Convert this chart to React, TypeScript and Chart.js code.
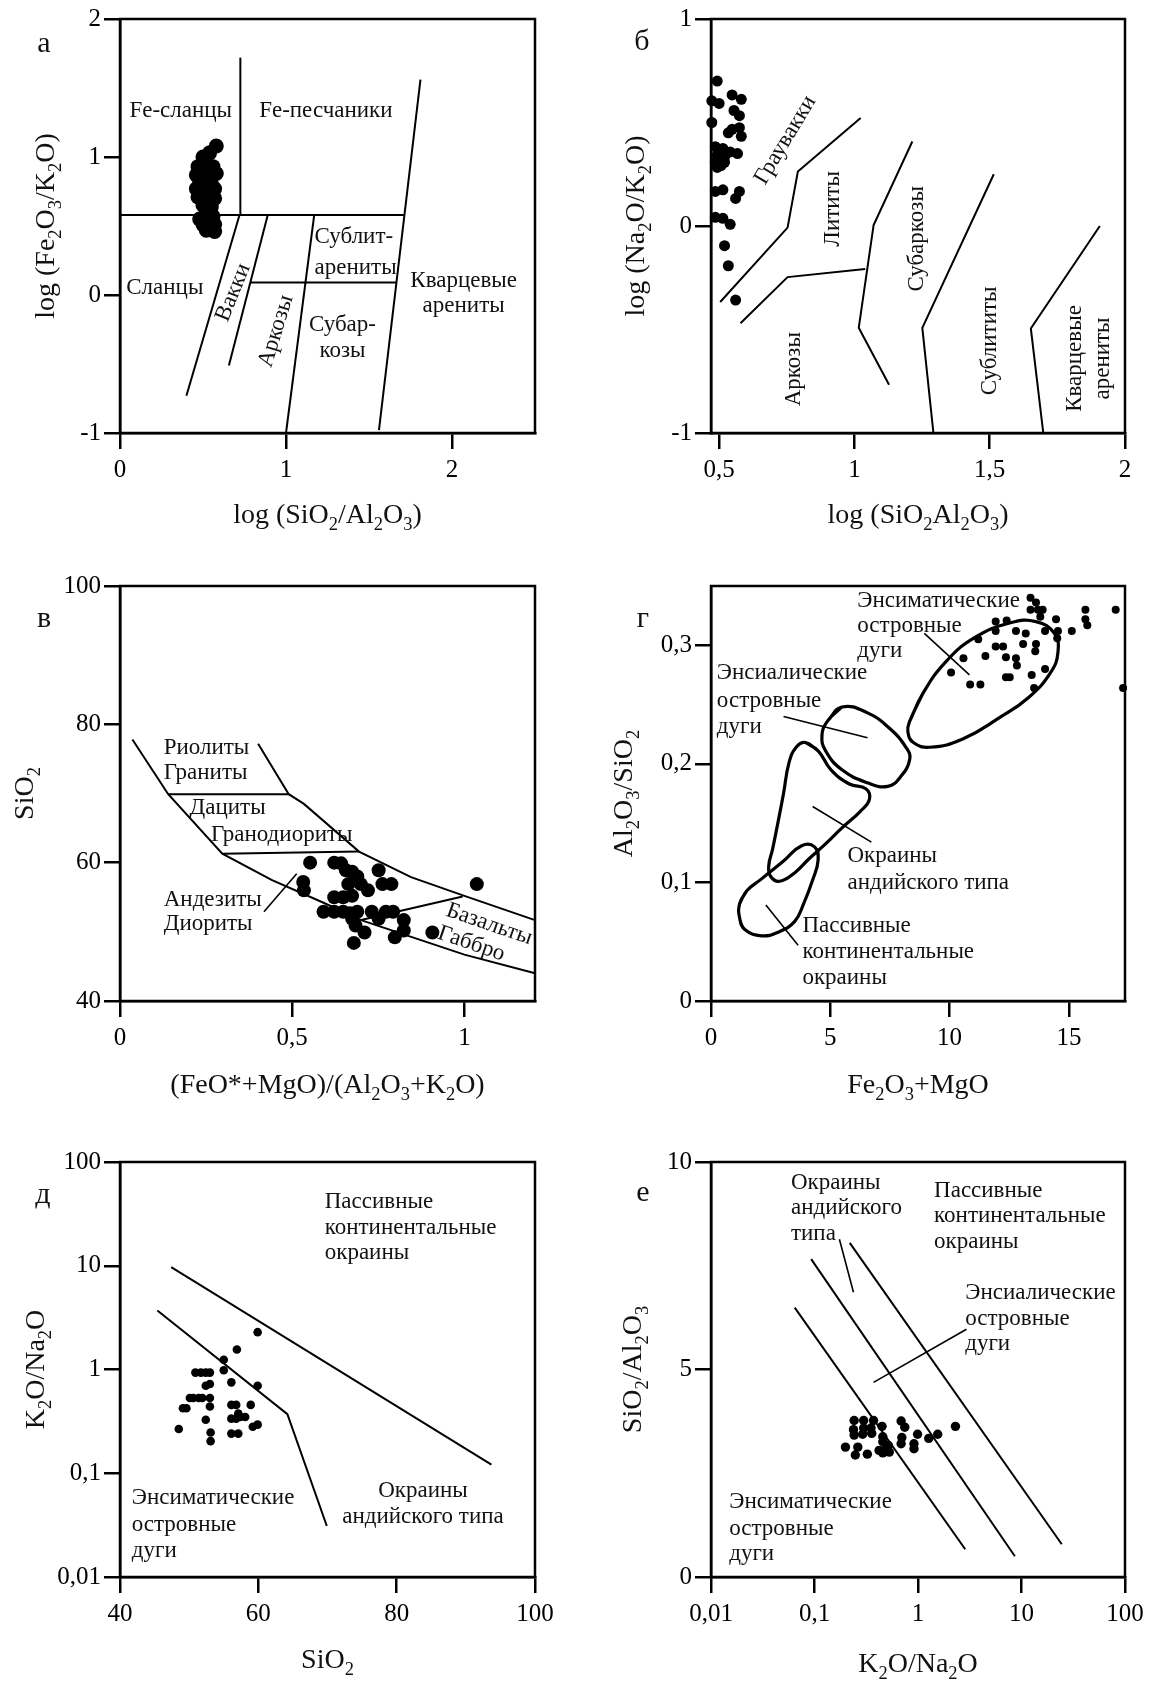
import React, { useEffect, useRef } from "react";
import { Chart, registerables } from "chart.js";

Chart.register(...registerables);

const SERIF = '"Liberation Serif", "Times New Roman", Times, serif';
const TICK_SIZE = 25;
const TITLE_SIZE = 28;
const LABEL_SIZE = 23;
const LETTER_SIZE = 30;
const PAD_L = 120;
const PAD_T = 19;
const PAD_R = 30;
const PAD_B = 106;

type Pt = [number, number];
type Label = { t: string; x: number; y: number; align?: "left" | "center" | "right"; rot?: number };

// ================= Panel а =================
const A_X_TICKS = [0, 1, 2];
const A_Y_TICKS = [-1, 0, 1, 2];
const A_PTS_X = [0.58, 0.54, 0.5, 0.52, 0.47, 0.56, 0.46, 0.53, 0.58, 0.48, 0.55, 0.46, 0.52, 0.57, 0.47, 0.53, 0.57, 0.5, 0.55, 0.52, 0.48, 0.56, 0.5, 0.57, 0.52, 0.57];
const A_PTS_Y = [1.08, 1.03, 1.0, 0.96, 0.93, 0.93, 0.87, 0.87, 0.88, 0.82, 0.81, 0.77, 0.76, 0.77, 0.71, 0.71, 0.7, 0.65, 0.64, 0.6, 0.55, 0.57, 0.51, 0.51, 0.47, 0.46];
const A_LINES: Pt[][] = [
  [[0, 0.58], [1.71, 0.58]],
  [[0.725, 0.58], [0.725, 1.72]],
  [[1.81, 1.56], [1.56, -0.98]],
  [[0.72, 0.58], [0.4, -0.73]],
  [[0.89, 0.58], [0.656, -0.51]],
  [[0.785, 0.09], [1.665, 0.09]],
  [[1.17, 0.58], [1.0, -1.0]],
];
const A_LABELS: Label[] = [
  { t: "Fe-сланцы", x: 0.366, y: 1.34 },
  { t: "Fe-песчаники", x: 1.24, y: 1.34 },
  { t: "Сланцы", x: 0.27, y: 0.06 },
  { t: "Вакки", x: 0.677, y: 0.02, rot: -68 },
  { t: "Аркозы", x: 0.935, y: -0.26, rot: -73 },
  { t: "Сублит-", x: 1.172, y: 0.43, align: "left" },
  { t: "арениты", x: 1.172, y: 0.2, align: "left" },
  { t: "Субар-", x: 1.34, y: -0.21 },
  { t: "козы", x: 1.34, y: -0.4 },
  { t: "Кварцевые", x: 2.07, y: 0.11 },
  { t: "арениты", x: 2.07, y: -0.075 },
];

// ================= Panel б =================
const B_X_TICKS = [0.5, 1, 1.5, 2];
const B_Y_TICKS = [-1, 0, 1];
const B_PTS_X = [0.493, 0.473, 0.5, 0.473, 0.548, 0.582, 0.555, 0.575, 0.548, 0.575, 0.534, 0.582, 0.486, 0.514, 0.541, 0.493, 0.52, 0.486, 0.507, 0.568, 0.52, 0.493, 0.514, 0.486, 0.575, 0.561, 0.486, 0.514, 0.541, 0.52, 0.534, 0.561];
const B_PTS_Y = [0.7, 0.605, 0.592, 0.5, 0.633, 0.612, 0.558, 0.533, 0.467, 0.475, 0.45, 0.433, 0.383, 0.375, 0.358, 0.342, 0.333, 0.308, 0.292, 0.35, 0.308, 0.283, 0.175, 0.167, 0.167, 0.133, 0.042, 0.037, 0.008, -0.095, -0.192, -0.358];
const B_LINES: Pt[][] = [
  [[0.504, -0.367], [0.753, -0.008], [0.791, 0.263], [1.023, 0.522]],
  [[0.579, -0.47], [0.753, -0.247], [1.04, -0.208]],
  [[1.214, 0.408], [1.071, 0.005], [1.016, -0.492], [1.128, -0.767]],
  [[1.515, 0.25], [1.251, -0.492], [1.292, -1.0]],
  [[1.907, 0.0], [1.652, -0.495], [1.698, -1.0]],
];
const B_LABELS: Label[] = [
  { t: "Граувакки", x: 0.742, y: 0.417, rot: -59 },
  { t: "Лититы", x: 0.917, y: 0.083, rot: -90 },
  { t: "Субаркозы", x: 1.227, y: -0.062, rot: -90 },
  { t: "Аркозы", x: 0.773, y: -0.692, rot: -90 },
  { t: "Сублититы", x: 1.497, y: -0.555, rot: -90 },
  { t: "Кварцевые", x: 1.811, y: -0.64, rot: -90 },
  { t: "арениты", x: 1.914, y: -0.64, rot: -90 },
];

// ================= Panel в =================
const V_X_TICKS = [0, 0.5, 1];
const V_Y_TICKS = [40, 60, 80, 100];
const V_PTS_X = [0.552, 0.532, 0.534, 0.622, 0.642, 0.656, 0.674, 0.689, 0.663, 0.699, 0.72, 0.622, 0.648, 0.674, 0.591, 0.622, 0.648, 0.668, 0.689, 0.674, 0.684, 0.71, 0.731, 0.751, 0.772, 0.793, 0.751, 0.762, 0.788, 0.824, 0.824, 0.798, 0.907, 1.036, 0.679];
const V_PTS_Y = [60.0, 57.2, 56.0, 60.0, 59.9, 58.9, 58.7, 58.0, 56.9, 56.9, 56.0, 55.0, 55.0, 55.2, 52.9, 52.9, 52.9, 52.7, 52.9, 51.9, 50.9, 49.9, 52.9, 51.9, 52.9, 52.9, 58.9, 56.9, 56.9, 51.7, 50.2, 49.2, 49.9, 56.9, 48.4];
const V_LINES: Pt[][] = [
  [[0.036, 77.8], [0.14, 69.9], [0.297, 61.3], [0.44, 57.5], [0.591, 54.2], [0.7, 51.7], [1.0, 46.7], [1.205, 44.0]],
  [[0.401, 77.2], [0.49, 69.9], [0.534, 68.5], [0.694, 61.6], [0.845, 57.9], [1.0, 55.2], [1.205, 51.7]],
  [[0.14, 69.9], [0.49, 69.9]],
  [[0.297, 61.3], [0.694, 61.6]],
  [[0.7, 51.7], [0.995, 55.1]],
];
const V_POINTERS: Pt[][] = [[[0.418, 52.9], [0.513, 58.4]]];
const V_LABELS: Label[] = [
  { t: "Риолиты", x: 0.127, y: 76.7, align: "left" },
  { t: "Граниты", x: 0.127, y: 73.1, align: "left" },
  { t: "Дациты", x: 0.202, y: 68.0, align: "left" },
  { t: "Гранодиориты", x: 0.264, y: 64.1, align: "left" },
  { t: "Андезиты", x: 0.127, y: 54.7, align: "left" },
  { t: "Диориты", x: 0.127, y: 51.2, align: "left" },
  { t: "Базальты", x: 1.073, y: 51.2, rot: 19 },
  { t: "Габбро", x: 1.021, y: 48.4, rot: 19 },
];

// ================= Panel г =================
const G_X_TICKS = [0, 5, 10, 15];
const G_Y_TICKS = [0, 0.1, 0.2, 0.3];
const G_PTS_X = [13.39, 13.62, 13.39, 13.7, 13.9, 13.8, 11.93, 12.39, 14.46, 15.69, 15.69, 15.77, 16.96, 11.93, 12.78, 13.19, 14.0, 14.54, 15.12, 14.51, 11.2, 11.93, 12.24, 13.08, 13.62, 13.59, 10.58, 11.5, 12.36, 12.78, 12.82, 14.0, 10.06, 10.86, 11.29, 12.36, 12.52, 13.44, 13.54, 17.27];
const G_PTS_Y = [0.34, 0.336, 0.33, 0.33, 0.33, 0.324, 0.32, 0.321, 0.322, 0.33, 0.322, 0.317, 0.33, 0.312, 0.312, 0.31, 0.312, 0.312, 0.312, 0.306, 0.305, 0.299, 0.299, 0.301, 0.301, 0.295, 0.289, 0.291, 0.29, 0.289, 0.283, 0.28, 0.277, 0.267, 0.267, 0.273, 0.273, 0.275, 0.264, 0.264];
const G_CURVES: Pt[][] = [
  [[8.33, 0.236], [8.87, 0.259], [9.79, 0.285], [11.01, 0.306], [12.55, 0.319], [13.62, 0.32], [14.39, 0.31], [14.54, 0.294], [14.23, 0.277], [13.31, 0.256], [12.09, 0.239], [10.55, 0.221], [9.17, 0.214], [8.48, 0.218], [8.25, 0.227]],
  [[4.88, 0.236], [5.49, 0.248], [6.56, 0.243], [7.48, 0.23], [8.17, 0.214], [8.33, 0.204], [7.94, 0.189], [7.41, 0.181], [6.56, 0.184], [5.49, 0.195], [4.8, 0.211], [4.65, 0.224]],
  [[3.96, 0.218], [4.49, 0.211], [5.03, 0.195], [5.8, 0.183], [6.49, 0.179], [6.64, 0.17], [6.26, 0.16], [5.49, 0.146], [4.72, 0.131], [4.11, 0.12], [3.5, 0.108], [2.88, 0.101], [2.5, 0.105], [2.42, 0.114], [2.58, 0.128], [2.81, 0.151], [3.04, 0.175], [3.27, 0.201], [3.57, 0.214]],
  [[1.2, 0.082], [1.5, 0.093], [2.12, 0.103], [3.04, 0.118], [3.8, 0.131], [4.34, 0.13], [4.49, 0.119], [4.26, 0.102], [3.88, 0.082], [3.5, 0.067], [2.81, 0.058], [2.12, 0.055], [1.43, 0.06], [1.2, 0.07]],
];
const G_POINTERS: Pt[][] = [
  [[8.94, 0.31], [10.83, 0.275]],
  [[3.04, 0.24], [6.56, 0.222]],
  [[4.26, 0.164], [6.72, 0.134]],
  [[2.3, 0.081], [3.65, 0.047]],
];
const G_LABELS: Label[] = [
  { t: "Энсиматические", x: 6.13, y: 0.338, align: "left" },
  { t: "островные", x: 6.13, y: 0.317, align: "left" },
  { t: "дуги", x: 6.13, y: 0.296, align: "left" },
  { t: "Энсиалические", x: 0.245, y: 0.277, align: "left" },
  { t: "островные", x: 0.245, y: 0.254, align: "left" },
  { t: "дуги", x: 0.245, y: 0.232, align: "left" },
  { t: "Окраины", x: 5.72, y: 0.123, align: "left" },
  { t: "андийского типа", x: 5.72, y: 0.1, align: "left" },
  { t: "Пассивные", x: 3.83, y: 0.064, align: "left" },
  { t: "континентальные", x: 3.83, y: 0.042, align: "left" },
  { t: "окраины", x: 3.83, y: 0.02, align: "left" },
];

// ================= Panel д =================
const D_X_TICKS = [40, 60, 80, 100];
const D_Y_TICKS = [0.01, 0.1, 1, 10, 100];
const D_PTS_X = [48.5, 49.1, 49.6, 50.1, 50.6, 50.9, 51.4, 51.7, 51.9, 52.4, 52.4, 53.0, 53.0, 53.0, 53.0, 52.4, 53.1, 53.1, 55.0, 55.0, 56.1, 56.1, 56.1, 56.1, 56.8, 56.8, 57.1, 57.1, 57.4, 58.1, 58.9, 59.2, 59.9, 59.9, 59.9, 56.9];
const D_PTS_Y = [0.267, 0.423, 0.423, 0.532, 0.532, 0.933, 0.532, 0.933, 0.532, 0.933, 0.697, 0.933, 0.532, 0.724, 0.44, 0.328, 0.247, 0.204, 1.24, 0.985, 0.752, 0.456, 0.336, 0.241, 0.456, 0.336, 0.241, 0.377, 0.349, 0.349, 0.456, 0.281, 2.29, 0.697, 0.294, 1.56];
const D_LINES: Pt[][] = [
  [[47.4, 9.7], [93.7, 0.121]],
  [[45.4, 3.7], [64.2, 0.371], [69.9, 0.031]],
];
const D_LABELS: Label[] = [
  { t: "Пассивные", x: 69.6, y: 41.6, align: "left" },
  { t: "континентальные", x: 69.6, y: 23.6, align: "left" },
  { t: "окраины", x: 69.6, y: 13.4, align: "left" },
  { t: "Окраины", x: 83.8, y: 0.069 },
  { t: "андийского типа", x: 83.8, y: 0.039 },
  { t: "Энсиматические", x: 41.7, y: 0.0595, align: "left" },
  { t: "островные", x: 41.7, y: 0.0322, align: "left" },
  { t: "дуги", x: 41.7, y: 0.018, align: "left" },
];

// ================= Panel е =================
const E_X_TICKS = [0.01, 0.1, 1, 10, 100];
const E_Y_TICKS = [0, 5, 10];
const E_PTS_X = [0.2415, 0.2985, 0.372, 0.687, 0.238, 0.2985, 0.352, 0.449, 0.745, 0.2415, 0.292, 0.357, 0.457, 0.698, 0.99, 1.27, 1.55, 2.3, 0.199, 0.262, 0.457, 0.516, 0.476, 0.528, 0.687, 0.914, 0.914, 0.248, 0.324, 0.421, 0.495, 0.457];
const E_PTS_Y = [3.77, 3.77, 3.77, 3.76, 3.55, 3.59, 3.59, 3.63, 3.61, 3.42, 3.44, 3.46, 3.38, 3.36, 3.44, 3.34, 3.44, 3.63, 3.13, 3.13, 3.26, 3.17, 3.05, 3.01, 3.21, 3.21, 3.09, 2.94, 2.96, 3.05, 3.09, 2.99];
const E_LINES: Pt[][] = [
  [[0.0644, 6.49], [2.86, 0.668]],
  [[0.0929, 7.66], [8.63, 0.5]],
  [[0.219, 8.05], [24.5, 0.79]],
];
const E_POINTERS: Pt[][] = [
  [[0.174, 8.14], [0.238, 6.86]],
  [[2.94, 5.97], [0.372, 4.69]],
];
const E_LABELS: Label[] = [
  { t: "Окраины", x: 0.0593, y: 9.52, align: "left" },
  { t: "андийского", x: 0.0593, y: 8.91, align: "left" },
  { t: "типа", x: 0.0593, y: 8.28, align: "left" },
  { t: "Пассивные", x: 1.43, y: 9.33, align: "left" },
  { t: "континентальные", x: 1.43, y: 8.72, align: "left" },
  { t: "окраины", x: 1.43, y: 8.1, align: "left" },
  { t: "Энсиалические", x: 2.86, y: 6.86, align: "left" },
  { t: "островные", x: 2.86, y: 6.24, align: "left" },
  { t: "дуги", x: 2.86, y: 5.63, align: "left" },
  { t: "Энсиматические", x: 0.015, y: 1.82, align: "left" },
  { t: "островные", x: 0.015, y: 1.19, align: "left" },
  { t: "дуги", x: 0.015, y: 0.57, align: "left" },
];

interface PanelDef {
  rect: [number, number, number, number];
  letter: string;
  letterOff: [number, number];
  xType: "linear" | "logarithmic";
  yType: "linear" | "logarithmic";
  xMin: number; xMax: number; yMin: number; yMax: number;
  xTicks: number[]; yTicks: number[];
  xTitle: string; yTitle: string;
  xTitleOff: number; yTitleOff: number;
  ptsX: number[]; ptsY: number[]; ptR: number;
  lines: Pt[][]; lineW: number;
  pointers?: Pt[][];
  curves?: Pt[][];
  labels: Label[];
}

const PANELS: PanelDef[] = [
  {
    rect: [120, 19, 535, 433], letter: "а", letterOff: [-76, 24],
    xType: "linear", yType: "linear", xMin: 0, xMax: 2.5, yMin: -1, yMax: 2,
    xTicks: A_X_TICKS, yTicks: A_Y_TICKS,
    xTitle: "log (SiO_2/Al_2O_3)", yTitle: "log (Fe_2O_3/K_2O)", xTitleOff: 82, yTitleOff: 74,
    ptsX: A_PTS_X, ptsY: A_PTS_Y, ptR: 7.5, lines: A_LINES, lineW: 2, labels: A_LABELS,
  },
  {
    rect: [711, 19, 1125, 433], letter: "б", letterOff: [-69, 22],
    xType: "linear", yType: "linear", xMin: 0.47, xMax: 2, yMin: -1, yMax: 1,
    xTicks: B_X_TICKS, yTicks: B_Y_TICKS,
    xTitle: "log (SiO_2Al_2O_3)", yTitle: "log (Na_2O/K_2O)", xTitleOff: 82, yTitleOff: 75,
    ptsX: B_PTS_X, ptsY: B_PTS_Y, ptR: 5.5, lines: B_LINES, lineW: 2, labels: B_LABELS,
  },
  {
    rect: [120, 586, 535, 1001], letter: "в", letterOff: [-76, 32],
    xType: "linear", yType: "linear", xMin: 0, xMax: 1.205, yMin: 40, yMax: 100,
    xTicks: V_X_TICKS, yTicks: V_Y_TICKS,
    xTitle: "(FeO*+MgO)/(Al_2O_3+K_2O)", yTitle: "SiO_2", xTitleOff: 84, yTitleOff: 95,
    ptsX: V_PTS_X, ptsY: V_PTS_Y, ptR: 7, lines: V_LINES, lineW: 2, pointers: V_POINTERS, labels: V_LABELS,
  },
  {
    rect: [711, 586, 1125, 1001], letter: "г", letterOff: [-68, 32],
    xType: "linear", yType: "linear", xMin: 0, xMax: 17.35, yMin: 0, yMax: 0.35,
    xTicks: G_X_TICKS, yTicks: G_Y_TICKS,
    xTitle: "Fe_2O_3+MgO", yTitle: "Al_2O_3/SiO_2", xTitleOff: 84, yTitleOff: 87,
    ptsX: G_PTS_X, ptsY: G_PTS_Y, ptR: 4, lines: [], lineW: 2, curves: G_CURVES, pointers: G_POINTERS, labels: G_LABELS,
  },
  {
    rect: [120, 1162, 535, 1577], letter: "д", letterOff: [-77, 32],
    xType: "linear", yType: "logarithmic", xMin: 40, xMax: 100, yMin: 0.01, yMax: 100,
    xTicks: D_X_TICKS, yTicks: D_Y_TICKS,
    xTitle: "SiO_2", yTitle: "K_2O/Na_2O", xTitleOff: 83, yTitleOff: 84,
    ptsX: D_PTS_X, ptsY: D_PTS_Y, ptR: 4.3, lines: D_LINES, lineW: 2, labels: D_LABELS,
  },
  {
    rect: [711, 1162, 1125, 1577], letter: "е", letterOff: [-68, 30],
    xType: "logarithmic", yType: "linear", xMin: 0.01, xMax: 100, yMin: 0, yMax: 10,
    xTicks: E_X_TICKS, yTicks: E_Y_TICKS,
    xTitle: "K_2O/Na_2O", yTitle: "SiO_2/Al_2O_3", xTitleOff: 87, yTitleOff: 78,
    ptsX: E_PTS_X, ptsY: E_PTS_Y, ptR: 4.7, lines: E_LINES, lineW: 2, pointers: E_POINTERS, labels: E_LABELS,
  },
];

function fmt(v: any): string {
  return String(Number(v)).replace(".", ",");
}

function drawRich(
  ctx: CanvasRenderingContext2D, text: string, x: number, y: number,
  size: number, rot: number, align: "left" | "center" | "right"
) {
  const parts: { s: string; sub: boolean }[] = [];
  for (let i = 0; i < text.length; i++) {
    const c = text[i];
    if (c === "_" && i + 1 < text.length) {
      parts.push({ s: text[i + 1], sub: true });
      i++;
    } else {
      const last = parts[parts.length - 1];
      if (last && !last.sub) last.s += c;
      else parts.push({ s: c, sub: false });
    }
  }
  const subSize = size * 0.66;
  const fontN = `${size}px ${SERIF}`;
  const fontS = `${subSize}px ${SERIF}`;
  let w = 0;
  const widths = parts.map((p) => {
    ctx.font = p.sub ? fontS : fontN;
    const m = ctx.measureText(p.s).width;
    w += m;
    return m;
  });
  ctx.save();
  ctx.translate(x, y);
  ctx.rotate(rot);
  ctx.textAlign = "left";
  ctx.textBaseline = "alphabetic";
  let cx = align === "center" ? -w / 2 : align === "right" ? -w : 0;
  const base = size * 0.3;
  parts.forEach((p, i) => {
    ctx.font = p.sub ? fontS : fontN;
    ctx.fillText(p.s, cx, base + (p.sub ? size * 0.25 : 0));
    cx += widths[i];
  });
  ctx.restore();
}

function axisOpts(type: string, min: number, max: number, ticks: number[], isX: boolean) {
  return {
    type,
    min,
    max,
    position: isX ? "bottom" : "left",
    afterBuildTicks: (s: any) => {
      s.ticks = ticks.map((v) => ({ value: v }));
    },
    afterFit: (s: any) => {
      if (isX) s.height = PAD_B;
      else s.width = PAD_L;
    },
    grid: {
      display: true,
      drawOnChartArea: false,
      drawTicks: true,
      tickLength: 16,
      tickWidth: 2.5,
      tickColor: "#000",
      color: "#000",
      lineWidth: 2.5,
    },
    border: { display: true, color: "#000", width: 2.5 },
    title: { display: false },
    ticks: {
      autoSkip: false,
      maxRotation: 0,
      minRotation: 0,
      padding: isX ? 6 : 3,
      color: "#000",
      font: { family: SERIF, size: TICK_SIZE },
      callback: (v: any) => fmt(v),
    },
  };
}

function PanelChart({ p }: { p: PanelDef }) {
  const ref = useRef<HTMLCanvasElement>(null);
  const [L, T, R, B] = p.rect;
  const left = L - PAD_L;
  const top = T - PAD_T;
  const W = R - L + PAD_L + PAD_R;
  const H = B - T + PAD_T + PAD_B;

  useEffect(() => {
    const datasets: any[] = [];
    const toXY = (pts: Pt[]) => pts.map(([x, y]) => ({ x, y }));
    for (const ln of p.lines) {
      datasets.push({ data: toXY(ln), showLine: true, pointRadius: 0, borderColor: "#000", borderWidth: p.lineW, tension: 0, clip: false });
    }
    for (const ln of p.pointers || []) {
      datasets.push({ data: toXY(ln), showLine: true, pointRadius: 0, borderColor: "#000", borderWidth: 1.6, tension: 0, clip: false });
    }
    for (const c of p.curves || []) {
      datasets.push({ data: toXY([...c, c[0], c[1]]), showLine: true, pointRadius: 0, borderColor: "#000", borderWidth: 3.2, tension: 0.45, clip: false });
    }
    datasets.push({
      data: p.ptsX.map((x, i) => ({ x, y: p.ptsY[i] })),
      showLine: false,
      pointRadius: p.ptR,
      pointBackgroundColor: "#000",
      pointBorderWidth: 0,
      pointBorderColor: "#000",
      clip: false,
    });

    const annot = {
      id: "annot",
      afterDatasetsDraw(chart: any) {
        const { ctx, chartArea: ca, scales } = chart;
        const xs = scales.x;
        const ys = scales.y;
        ctx.save();
        ctx.strokeStyle = "#000";
        ctx.lineWidth = 2.5;
        ctx.strokeRect(ca.left, ca.top, ca.right - ca.left, ca.bottom - ca.top);
        ctx.fillStyle = "#111";
        for (const lb of p.labels) {
          drawRich(ctx, lb.t, xs.getPixelForValue(lb.x), ys.getPixelForValue(lb.y), LABEL_SIZE, ((lb.rot || 0) * Math.PI) / 180, lb.align || "center");
        }
        drawRich(ctx, p.xTitle, (ca.left + ca.right) / 2, ca.bottom + p.xTitleOff, TITLE_SIZE, 0, "center");
        drawRich(ctx, p.yTitle, ca.left - p.yTitleOff, (ca.top + ca.bottom) / 2, TITLE_SIZE, -Math.PI / 2, "center");
        drawRich(ctx, p.letter, ca.left + p.letterOff[0], ca.top + p.letterOff[1], LETTER_SIZE, 0, "center");
        ctx.restore();
      },
    };

    const chart = new Chart(ref.current as HTMLCanvasElement, {
      type: "scatter",
      data: { datasets },
      options: {
        responsive: false,
        animation: false,
        devicePixelRatio: 1,
        events: [],
        layout: { padding: { left: 0, top: PAD_T, right: PAD_R, bottom: 0 } },
        plugins: { legend: { display: false }, tooltip: { enabled: false } },
        scales: {
          x: axisOpts(p.xType, p.xMin, p.xMax, p.xTicks, true) as any,
          y: axisOpts(p.yType, p.yMin, p.yMax, p.yTicks, false) as any,
        },
      } as any,
      plugins: [annot],
    });
    return () => chart.destroy();
  }, []);

  return (
    <canvas
      ref={ref}
      width={W}
      height={H}
      style={{ position: "absolute", left, top, width: W, height: H }}
    />
  );
}

export default function App() {
  return (
    <div
      style={{
        position: "absolute",
        left: 0,
        top: 0,
        width: 1156,
        height: 1683,
        background: "#fff",
        overflow: "hidden",
      }}
    >
      {PANELS.map((p, i) => (
        <PanelChart key={i} p={p} />
      ))}
    </div>
  );
}
